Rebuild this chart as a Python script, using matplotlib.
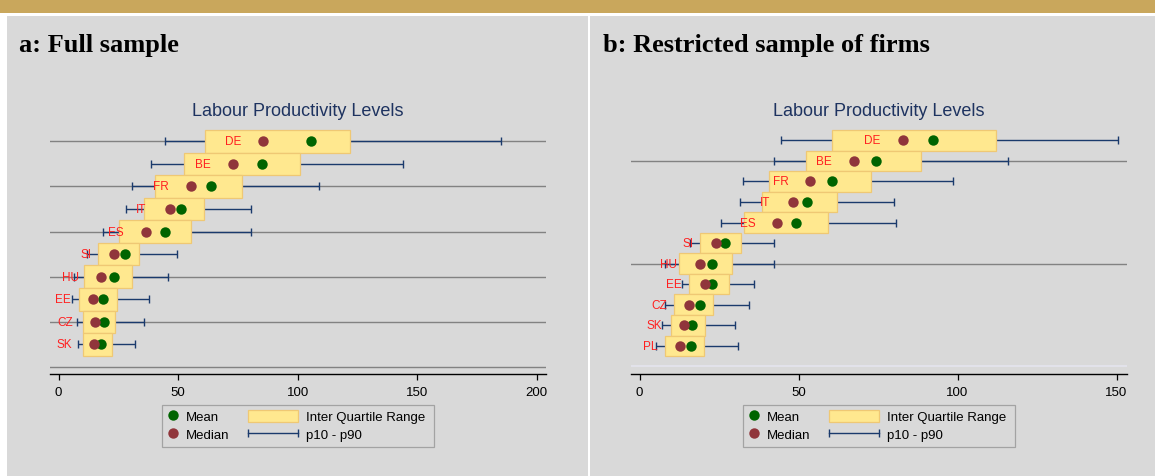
import matplotlib
matplotlib.use('AGG')
import matplotlib.pyplot as plt
from matplotlib.patches import Rectangle, Patch
from matplotlib.lines import Line2D
from matplotlib.legend_handler import HandlerLine2D
import numpy as np

plt.rcParams['font.family'] = ['Liberation Sans', 'DejaVu Sans']

# panel a: full sample
countries_a = ["DE", "BE", "FR", "IT", "ES", "SI", "HU", "EE", "CZ", "SK"]
p10_a = [44.7, 38.8, 30.5, 28.4, 18.7, 11.8, 6.5, 5.8, 7.5, 8.0]
p25_a = [61.4, 52.6, 40.5, 35.9, 25.4, 16.4, 10.8, 8.7, 10.4, 10.4]
median_a = [85.7, 72.9, 55.3, 46.4, 36.6, 23.1, 17.8, 14.3, 15.3, 15.0]
mean_a = [105.5, 85.0, 63.8, 51.3, 44.6, 27.7, 23.1, 18.6, 18.9, 17.8]
p75_a = [121.8, 101.2, 76.9, 61.0, 55.3, 33.8, 30.5, 24.3, 23.5, 22.3]
p90_a = [185.3, 144.3, 109.1, 80.7, 80.3, 49.7, 45.9, 37.7, 35.6, 31.9]
label_x_a = [72.9, 60.2, 42.6, 34.6, 24.1, 11.5, 4.9, 1.8, 2.6, 2.4]
xticks_a = [0, 50, 100, 150, 200]
grid_a = [1, 3, 5, 7, 9, 11]

# panel b: restricted sample of firms
countries_b = ["DE", "BE", "FR", "IT", "ES", "SI", "HU", "EE", "CZ", "SK", "PL"]
p10_b = [44.6, 42.4, 32.6, 31.7, 25.7, 16.0, 8.0, 13.4, 8.1, 7.1, 5.2]
p25_b = [60.4, 52.4, 40.8, 38.6, 32.7, 19.1, 12.3, 15.6, 10.9, 10.0, 8.1]
median_b = [82.8, 67.5, 53.7, 48.3, 43.3, 24.0, 18.9, 20.5, 15.4, 13.9, 12.6]
mean_b = [92.3, 74.5, 60.5, 52.7, 49.1, 26.8, 22.7, 22.7, 18.9, 16.6, 16.1]
p75_b = [112.2, 88.4, 72.7, 62.0, 59.2, 32.0, 29.0, 28.0, 23.2, 20.6, 20.3]
p90_b = [150.6, 116.0, 98.7, 80.1, 80.5, 42.4, 42.4, 36.1, 34.5, 30.1, 31.0]
label_x_b = [73.0, 58.0, 44.4, 39.5, 34.0, 15.3, 9.2, 10.9, 6.1, 4.6, 3.3]
xticks_b = [0, 50, 100, 150]
grid_b = [2, 7]

title_text = "Labour Productivity Levels"
legend_labels = ["Mean", "Median", "Inter Quartile Range", "p10 - p90"]

GOLD = "#C9A75C"
PANEL = "#D9D9D9"
BOX_FILL = "#FFE88F"
BOX_EDGE = "#EFC874"
MEAN_C = "#006400"
MEDIAN_C = "#90353B"
NAVY = "#1A3A6C"
TITLE_C = "#1E3360"
LABEL_C = "#FF2020"
GRID_C = "#828282"

W, H = 1155, 477
fig = plt.figure(figsize=(W / 100, H / 100), dpi=100, facecolor="white")


def fx(px):
    return px / W


def fy(py):
    return 1 - py / H


def bg_rect(x0, y0, x1, y1, color):
    fig.patches.append(Rectangle((fx(x0), fy(y1)), fx(x1 - x0), (y1 - y0) / H,
                                 transform=fig.transFigure, facecolor=color,
                                 edgecolor="none", zorder=-5))


bg_rect(0, 0, W, 14, GOLD)
bg_rect(7, 17, 587.5, H, PANEL)
bg_rect(590, 17, W, H, PANEL)

fig.text(fx(19), fy(52), "a: Full sample", family=['Liberation Serif', 'DejaVu Serif'],
         fontweight="bold", fontsize=19, va="baseline", ha="left")
fig.text(fx(603), fy(52), "b: Restricted sample of firms", family=['Liberation Serif', 'DejaVu Serif'],
         fontweight="bold", fontsize=19, va="baseline", ha="left")


def draw_panel(x0, x1, xlim, ylim, countries, p10, p25, med, mean, p75, p90, label_x,
               xticks, grid_rows, extra_grid=None):
    y_top, y_bot = 126.5, 375
    ax = fig.add_axes([fx(x0), fy(y_bot), fx(x1 - x0), (y_bot - y_top) / H])
    ax.set_facecolor("none")
    rows = np.arange(1, len(countries) + 1)

    for r in grid_rows:
        ax.axhline(r, color=GRID_C, lw=1.0, zorder=1)
    if extra_grid is not None:
        ax.axhline(extra_grid, color="#E4E4EE", lw=1.2, zorder=1)

    ax.hlines(rows, p10, p90, color=NAVY, lw=1.0, zorder=2)
    ax.plot(p10, rows, ls="none", marker="|", ms=6, mew=1.0, color=NAVY, zorder=2)
    ax.plot(p90, rows, ls="none", marker="|", ms=6, mew=1.0, color=NAVY, zorder=2)

    widths = np.array(p75) - np.array(p25)
    ax.barh(rows, widths, left=p25, height=1.0, color=BOX_FILL, edgecolor=BOX_EDGE,
            lw=0.9, zorder=3)

    ax.plot(mean, rows, ls="none", marker="o", ms=7.5, color=MEAN_C, mec="none", zorder=4)
    ax.plot(med, rows, ls="none", marker="o", ms=7.5, color=MEDIAN_C, mec="none", zorder=5)

    for c, lx, r in zip(countries, label_x, rows):
        ax.text(lx, r, c, color=LABEL_C, fontsize=8.5, ha="center", va="center", zorder=6)

    ax.set_xlim(*xlim)
    ax.set_ylim(*ylim)
    ax.set_xticks(xticks)
    ax.set_yticks([])
    for s in ["top", "left", "right"]:
        ax.spines[s].set_visible(False)
    ax.spines["bottom"].set_linewidth(1.0)
    ax.tick_params(axis="x", direction="out", length=4.5, width=0.9, pad=4, labelsize=9.5)

    cx = (x0 + x1) / 2
    fig.text(fx(cx), fy(116.5), title_text, color=TITLE_C, fontsize=13,
             ha="center", va="baseline")

    # legend: two frameless legends inside one drawn frame
    off = cx - 297.9
    h_mean = Line2D([], [], ls="none", marker="o", ms=7.5, color=MEAN_C, mec="none")
    h_med = Line2D([], [], ls="none", marker="o", ms=7.5, color=MEDIAN_C, mec="none")
    h_box = Patch(facecolor=BOX_FILL, edgecolor=BOX_EDGE, lw=0.9)
    h_rng = Line2D([], [], color=NAVY, lw=1.0, marker="|", ms=6, mew=1.0)

    leg1 = ax.legend([h_mean, h_med], legend_labels[:2], loc="upper left",
                     bbox_to_anchor=(fx(166 + off), fy(411)), bbox_transform=fig.transFigure,
                     frameon=False, fontsize=9.5, borderpad=0, borderaxespad=0,
                     handlelength=1.0, handleheight=1.0, handletextpad=0.5, labelspacing=0.32)
    ax.add_artist(leg1)
    ax.legend([h_box, h_rng], legend_labels[2:], loc="upper left",
              bbox_to_anchor=(fx(248.3 + off), fy(411)), bbox_transform=fig.transFigure,
              frameon=False, fontsize=9.5, borderpad=0, borderaxespad=0,
              handlelength=3.74, handleheight=1.0, handletextpad=0.6, labelspacing=0.32,
              handler_map={h_rng: HandlerLine2D(numpoints=2, marker_pad=0)})
    fig.patches.append(Rectangle((fx(162.3 + off), fy(448.3)), fx(434 - 162.3), (448.3 - 405.7) / H,
                                 transform=fig.transFigure, facecolor="none",
                                 edgecolor="#A3A3A3", lw=0.9, zorder=1))
    return ax


draw_panel(50, 545.7, (-3.6, 203.8), (11.31, 0.3), countries_a, p10_a, p25_a, median_a,
           mean_a, p75_a, p90_a, label_x_a, xticks_a, grid_a)
draw_panel(631, 1126.7, (-2.7, 153.2), (12.37, 0.28), countries_b, p10_b, p25_b, median_b,
           mean_b, p75_b, p90_b, label_x_b, xticks_b, grid_b, extra_grid=12)

plt.savefig("out.png", dpi=100, facecolor=fig.get_facecolor())
plt.close()
